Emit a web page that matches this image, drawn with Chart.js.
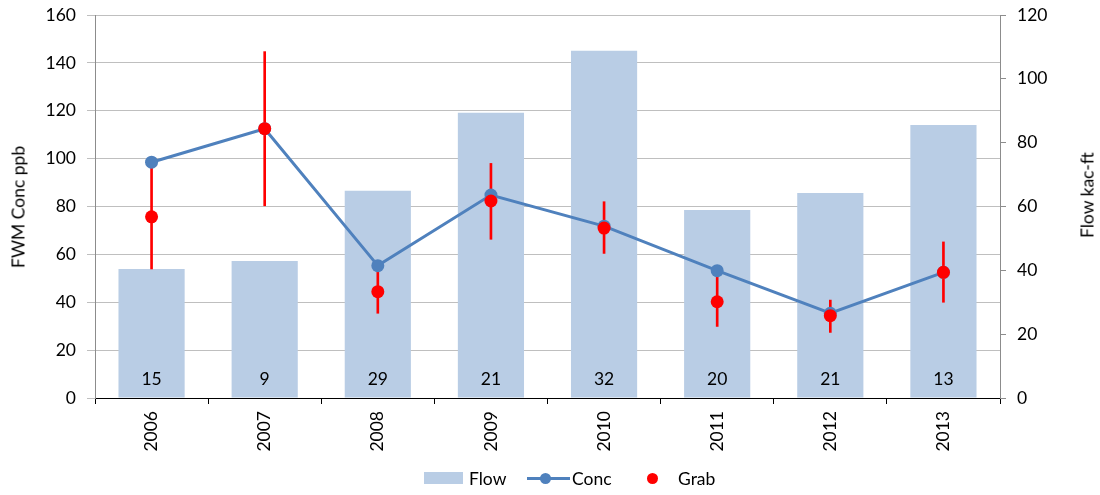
<!DOCTYPE html>
<html>
<head>
<meta charset="utf-8">
<script src="https://cdn.jsdelivr.net/npm/chart.js@4.4.0/dist/chart.umd.min.js"></script>
<style>
  html, body { margin: 0; padding: 0; background: #fff; }
  #wrap { position: relative; width: 1100px; height: 495px; font-family: Lato, "Open Sans", sans-serif; color: #000; }
  canvas { position: absolute; left: 0; top: 0; }
  .vtitle { position: absolute; white-space: nowrap; font-size: 17.5px; transform: translate(-50%, -50%) rotate(-90deg); }
  .leg { position: absolute; font-size: 17.5px; white-space: nowrap; transform: translateY(-50%); }
  .sw { position: absolute; }
</style>
</head>
<body>
<div id="wrap">
  <canvas id="c" width="1100" height="495"></canvas>
  <div class="vtitle" style="left:18px; top:207px;">FWM Conc ppb</div>
  <div class="vtitle" style="left:1087px; top:195px;">Flow kac-ft</div>
  <div class="sw" style="left:424px; top:472px; width:39px; height:12px; background:#B9CDE5;"></div>
  <div class="leg" style="left:469px; top:478px;">Flow</div>
  <div class="sw" style="left:527px; top:477px; width:43px; height:3px; background:#4F81BD;"></div>
  <div class="sw" style="left:540px; top:473px; width:11px; height:11px; border-radius:50%; background:#4F81BD;"></div>
  <div class="leg" style="left:572px; top:478px;">Conc</div>
  <div class="sw" style="left:647px; top:473px; width:11px; height:11px; border-radius:50%; background:#FF0000;"></div>
  <div class="leg" style="left:678px; top:478px;">Grab</div>
</div>
<script>
const years = ['2006', '2007', '2008', '2009', '2010', '2011', '2012', '2013'];
const flow = [40.4, 42.9, 64.9, 89.4, 108.8, 58.9, 64.2, 85.5];
const conc = [98.5, 112.5, 55.3, 84.8, 71.8, 53.2, 35.4, 52.5];
const grab = [75.7, 112.5, 44.4, 82.3, 71.0, 40.2, 34.4, 52.5];
const grabLow = [53.9, 80.3, 35.4, 66.3, 60.4, 29.9, 27.4, 40.0];
const grabHigh = [97.0, 144.7, 53.0, 98.0, 82.0, 51.0, 40.9, 65.2];
const counts = [15, 9, 29, 21, 32, 20, 21, 13];

const FONT = { family: 'Lato, "Open Sans", sans-serif', size: 17.5 };

const countLabels = {
  id: 'countLabels',
  afterDatasetsDraw(chart) {
    const meta = chart.getDatasetMeta(0);
    const y0 = chart.scales.y1.getPixelForValue(0);
    const ctx = chart.ctx;
    ctx.save();
    ctx.font = FONT.size + 'px ' + FONT.family;
    ctx.fillStyle = '#000';
    ctx.textAlign = 'center';
    ctx.textBaseline = 'middle';
    meta.data.forEach((bar, i) => {
      ctx.fillText(String(counts[i]), bar.x, y0 - 19);
    });
    ctx.restore();
  }
};

new Chart(document.getElementById('c'), {
  data: {
    labels: years,
    datasets: [
      {
        type: 'bar', label: 'Flow', data: flow, yAxisID: 'y1',
        backgroundColor: '#B9CDE5', barPercentage: 0.585, categoryPercentage: 1,
        grouped: false, order: 3
      },
      {
        type: 'bar', label: 'GrabRange', data: grabLow.map((lo, i) => [lo, grabHigh[i]]), yAxisID: 'y',
        backgroundColor: '#FF0000', barThickness: 2, grouped: false, order: 2
      },
      {
        type: 'line', label: 'Conc', data: conc, yAxisID: 'y',
        borderColor: '#4F81BD', backgroundColor: '#4F81BD', borderWidth: 3,
        pointRadius: 6.5, pointBorderWidth: 0, pointBackgroundColor: '#4F81BD',
        tension: 0, order: 1
      },
      {
        type: 'line', label: 'Grab', data: grab, yAxisID: 'y', showLine: false,
        pointRadius: 6.5, pointBorderWidth: 0, pointBackgroundColor: '#FF0000',
        backgroundColor: '#FF0000', order: 0
      }
    ]
  },
  options: {
    responsive: false,
    animation: false,
    layout: { padding: { top: 15, left: 0, right: 0, bottom: 0 } },
    plugins: { legend: { display: false }, tooltip: { enabled: false } },
    scales: {
      x: {
        type: 'category', offset: true,
        grid: { offset: true, drawOnChartArea: false, drawTicks: true, tickLength: 6, color: '#000' },
        border: { color: '#000', width: 1 },
        ticks: { minRotation: 90, maxRotation: 90, padding: 7, color: '#000', font: FONT },
        afterFit(s) { s.height = 97; s.paddingLeft = 0; s.paddingRight = 0; }
      },
      y: {
        position: 'left', min: 0, max: 160,
        ticks: { stepSize: 20, padding: 11, color: '#000', font: FONT },
        grid: { color: '#BFBFBF', tickLength: 8, lineWidth: 1 },
        border: { color: '#8C8C8C' },
        afterFit(s) { s.width = 95; s.paddingTop = 0; s.paddingBottom = 0; }
      },
      y1: {
        position: 'right', min: 0, max: 120,
        ticks: { stepSize: 20, padding: 11, color: '#000', font: FONT },
        grid: { drawOnChartArea: false, tickLength: 6, color: '#8C8C8C' },
        border: { color: '#8C8C8C' },
        afterFit(s) { s.width = 100; s.paddingTop = 0; s.paddingBottom = 0; }
      }
    }
  },
  plugins: [countLabels]
});
</script>
</body>
</html>
